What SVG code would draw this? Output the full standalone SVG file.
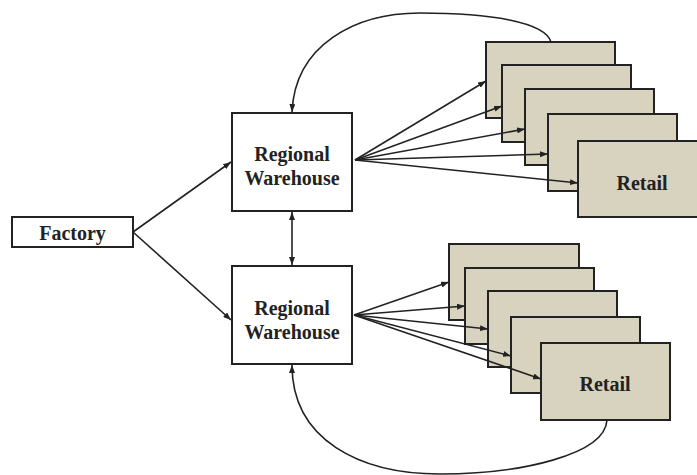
<svg xmlns="http://www.w3.org/2000/svg" width="697" height="475" viewBox="0 0 697 475">
<defs>
<style>
.box{fill:#ffffff;stroke:#222;stroke-width:2}
.retail{fill:#d7d3bf;stroke:#222;stroke-width:2}
.lbl{font-family:"Liberation Serif","Times New Roman",serif;font-weight:bold;font-size:20px;fill:#222;text-anchor:middle}
.con{fill:none;stroke:#222;stroke-width:1.6}
</style>
<marker id="ah" markerUnits="userSpaceOnUse" markerWidth="8" markerHeight="6" refX="8" refY="3" orient="auto-start-reverse">
<path d="M0,0 L8,3 L0,6 z" fill="#222"/>
</marker>
</defs>
<rect width="697" height="475" fill="#ffffff"/>

<g id="factory">
<rect class="box" x="12" y="217" width="121" height="30"/>
<text class="lbl" x="72.5" y="240">Factory</text>
</g>

<g id="warehouse-upper">
<rect class="box" x="232" y="113" width="120" height="98"/>
<text class="lbl" x="292" y="161">Regional</text>
<text class="lbl" x="292" y="185">Warehouse</text>
</g>

<g id="warehouse-lower">
<rect class="box" x="232" y="266" width="120" height="98"/>
<text class="lbl" x="292" y="315">Regional</text>
<text class="lbl" x="292" y="339">Warehouse</text>
</g>

<g id="retail-upper-1"><rect class="retail" x="486" y="42" width="129" height="76"/></g>
<g id="retail-upper-2"><rect class="retail" x="502" y="65" width="129" height="77"/></g>
<g id="retail-upper-3"><rect class="retail" x="525" y="89" width="129" height="76"/></g>
<g id="retail-upper-4"><rect class="retail" x="548" y="114" width="129" height="77"/></g>
<g id="retail-upper-5"><rect class="retail" x="578" y="141" width="129" height="76"/>
<text class="lbl" x="642" y="190">Retail</text></g>

<g id="retail-lower-1"><rect class="retail" x="449" y="244" width="130" height="76"/></g>
<g id="retail-lower-2"><rect class="retail" x="465" y="268" width="129" height="76"/></g>
<g id="retail-lower-3"><rect class="retail" x="488" y="291" width="129" height="76"/></g>
<g id="retail-lower-4"><rect class="retail" x="511" y="317" width="129" height="76"/></g>
<g id="retail-lower-5"><rect class="retail" x="541" y="343" width="129" height="77"/>
<text class="lbl" x="605" y="391">Retail</text></g>

<g id="connectors">
<line class="con" x1="133" y1="232" x2="231" y2="162" marker-end="url(#ah)"/>
<line class="con" x1="133" y1="232" x2="231" y2="320" marker-end="url(#ah)"/>
<line class="con" x1="292" y1="212" x2="292" y2="265" marker-start="url(#ah)" marker-end="url(#ah)"/>

<line class="con" x1="355" y1="160" x2="486" y2="81" marker-end="url(#ah)"/>
<line class="con" x1="355" y1="160" x2="502" y2="106" marker-end="url(#ah)"/>
<line class="con" x1="355" y1="160" x2="525" y2="129" marker-end="url(#ah)"/>
<line class="con" x1="355" y1="160" x2="548" y2="154" marker-end="url(#ah)"/>
<line class="con" x1="355" y1="160" x2="578" y2="183" marker-end="url(#ah)"/>

<line class="con" x1="354" y1="315" x2="449" y2="282" marker-end="url(#ah)"/>
<line class="con" x1="354" y1="315" x2="465" y2="306" marker-end="url(#ah)"/>
<line class="con" x1="354" y1="315" x2="488" y2="329" marker-end="url(#ah)"/>
<line class="con" x1="354" y1="315" x2="511" y2="356" marker-end="url(#ah)"/>
<line class="con" x1="354" y1="315" x2="541" y2="379" marker-end="url(#ah)"/>

<path class="con" d="M551,42 C545,22 490,13 420,13 C355,13 295,45 292,112" marker-end="url(#ah)"/>
<path class="con" d="M607,420 C605,455 520,474 440,474 C360,474 292,440 292,365" marker-end="url(#ah)"/>
</g>
</svg>
